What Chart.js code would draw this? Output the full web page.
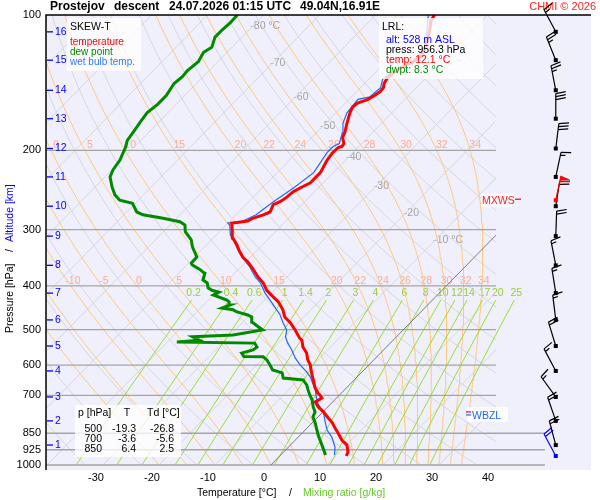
<!DOCTYPE html>
<html>
<head>
<meta charset="utf-8">
<script src="https://cdn.jsdelivr.net/npm/chart.js@4.4.1/dist/chart.umd.min.js"></script>
<style>
  html, body { margin: 0; padding: 0; background: #fff; }
  canvas { display: block; }
</style>
</head>
<body>
<canvas id="skewt" width="600" height="500"></canvas>
<script>
// ---------------- sounding data ----------------------------------------------

const tempP = [955, 936, 903, 880, 849, 828, 803, 786, 762, 743, 724, 710, 699, 692, 671, 647, 631, 599, 584, 564,
  547, 528, 522, 501, 483, 469, 452, 434, 423, 409, 394, 382, 368, 354, 345, 333, 324, 313, 303, 290,
  289, 287, 283, 278, 274, 264, 260, 254, 247, 242, 236, 224, 210, 207, 202, 197, 196, 193, 187, 182,
  176, 169, 164, 160, 157, 154, 152, 151, 148, 145, 142, 138, 135, 131, 129, 127, 124, 120, 114, 108, 103, 100];
const tempT = [11.9, 11.5, 10.1, 8.3, 6.4, 5.0, 3.4, 2.0, 0.1, -1.7, -3.1, -2.6, -3.5, -4.2, -5.8, -7.3, -8.4, -10.5, -11.8, -13.2,
  -14.9, -16.3, -17.1, -19.3, -21.4, -23.4, -25.0, -27.2, -29.0, -31.3, -33.2, -35.2, -37.3, -39.6, -41.4, -43.3, -44.6, -46.5, -47.7, -49.3,
  -48.5, -46.8, -46.4, -45.1, -44.4, -45.1, -44.4, -44.0, -43.8, -43.2, -42.3, -42.3, -43.3, -43.4, -43.6, -43.5, -43.0, -43.2, -44.5, -45.0,
  -45.9, -46.9, -47.6, -48.0, -47.8, -46.6, -46.3, -46.1, -45.8, -45.9, -46.5, -46.9, -46.8, -46.3, -45.7, -45.1, -44.7, -45.1, -46.3, -47.7, -49.1, -49.5];

const dewP = [950, 912, 880, 858, 836, 807, 782, 762, 743, 717, 699, 681, 664, 654, 647, 641, 624, 615, 599, 584,
  575, 574, 564, 555, 547, 536, 533, 528, 519, 514, 501, 481, 469, 464, 457, 452, 448, 441, 434, 430,
  419, 413, 409, 404, 394, 388, 375, 373, 368, 359, 356, 345, 328, 316, 303, 293, 288, 283, 278, 274,
  262, 258, 251, 241, 229, 221, 210, 197, 190, 180, 173, 165, 158, 151, 142, 137, 133, 127, 121, 118, 112, 108, 104, 100];
const dewT = [8.0, 6.1, 4.4, 3.2, 2.1, 0.6, -0.9, -1.4, -2.6, -4.0, -5.3, -6.5, -7.6, -8.5, -9.1, -13.0, -14.1, -16.3, -17.7, -19.1,
  -20.3, -23.8, -24.8, -23.3, -23.1, -24.2, -38.3, -34.6, -36.4, -29.5, -25.1, -28.4, -29.3, -30.4, -32.8, -33.9, -36.2, -35.3, -36.0, -36.7,
  -40.0, -39.5, -41.1, -42.2, -43.2, -44.5, -45.3, -45.8, -46.8, -49.1, -49.5, -49.6, -52.1, -53.6, -56.1, -57.3, -58.8, -62.4, -66.6, -68.2,
  -70.5, -73.3, -75.1, -77.0, -79.1, -79.8, -80.3, -81.5, -82.4, -82.9, -83.3, -83.7, -83.3, -83.3, -84.0, -83.7, -83.9, -83.5, -84.2, -83.6, -84.8, -84.8, -84.6, -84.7];

const wetP = [950, 912, 867, 836, 803, 766, 728, 706, 681, 657, 637, 621, 609, 599, 578, 555, 536, 519, 501, 483,
  464, 446, 430, 415, 394, 382, 363, 347, 333, 316, 308, 293, 290, 288, 278, 260, 242, 224, 202, 196,
  193, 183, 174, 165, 154, 152, 145, 139, 135, 128, 123, 117, 108, 100];
const wetT = [9.6, 8.3, 6.0, 3.9, 2.2, 0.3, -2.5, -3.8, -5.2, -6.9, -8.4, -9.9, -11.2, -12.3, -14.4, -16.4, -18.3, -19.8, -20.8, -22.7,
  -24.6, -26.9, -29.0, -31.1, -33.7, -35.7, -38.4, -41.2, -43.4, -46.1, -47.5, -49.3, -50.0, -47.8, -46.4, -45.6, -44.4, -43.5, -44.6, -44.6,
  -44.0, -45.3, -46.9, -48.0, -48.4, -46.7, -46.4, -47.5, -47.3, -45.5, -45.1, -45.9, -48.2, -50.6];

// wind: surface + every km
const windP   = [955, 903, 798, 706, 618, 544, 476, 415, 360, 310, 266, 229, 198, 170, 147, 126, 109];
const windDir = [332, 345, 341, 324, 332, 343, 353, 351, 349, 2, 9, 12, 7, 360, 349, 338, 332];
const windSpd = [20, 20, 20, 15, 15, 20, 15, 15, 15, 20, 20, 15, 30, 30, 25, 25, 15];
const maxWindP = 258, maxWindDir = 12, maxWindSpd = 60;
const wbzlP = 774;

// altitude scale
const altKm = [1, 2, 3, 4, 5, 6, 7, 8, 9, 10, 11, 12, 13, 14, 15, 16];
const altP  = [903, 798, 706, 618, 544, 476, 415, 360, 310, 266, 229, 198, 170, 147, 126, 109];

// axes and diagram lines
const pressureLevels = [200, 300, 400, 500, 600, 700, 850, 925, 1000];
const pressureLabels = [100, 200, 300, 400, 500, 600, 700, 850, 925, 1000];
const tempTicks = [-30, -20, -10, 0, 10, 20, 30, 40];
const mixRatios = [0.2, 0.4, 0.6, 1, 1.4, 2, 3, 4, 6, 8, 10, 12, 14, 17, 20, 25];
const thetaW = [-20, -15, -10, -5, 0, 5, 10, 15, 20, 22, 24, 26, 28, 30, 32, 34];
const thetaWLabels200 = [0, 5, 10, 15, 20, 22, 24, 26, 28, 30, 32, 34];
const thetaWLabels400 = [-10, -5, 0, 5, 10, 15, 20, 22, 24, 26, 28, 30, 32, 34];
const isoLabels = [-80, -70, -60, -50, -40, -30, -20, -10];
const isoLabelP = [106, 128, 152, 177, 207, 240, 275, 316];

// summary table
const tableP  = ["500", "700", "850"];
const tableT  = ["-19.3", "-3.6", "6.4"];
const tableTd = ["-26.8", "-5.6", "2.5"];

// ---------------- geometry -----------------------

const SKEW = 78.7;          // degC per decade of pressure
const T_SHIFT = 1.23;       // isotherm offset at 1000 hPa against the axis ticks
const X_MIN = -38.93, X_MAX = 58.39;
const X_GRID = 41.43;       // right end of the diagram lines
const X_LOW = 50.18;        // right end of the 850..1000 lines
const BARB_X = 52.1;
const FONT = "'Liberation Sans', Arial, sans-serif";

function skewX(t, p) { return t + T_SHIFT + SKEW * Math.log10(1000 / p); }
function toPts(ps, ts) { return ps.map((p, i) => ({ x: skewX(ts[i], p), y: p })); }

const samplesP = [];
for (let i = 0; i <= 100; i++) samplesP.push(1000 * Math.pow(10, -i / 100));

// pseudo-adiabat
function es(tc) { return 6.112 * Math.exp(17.67 * tc / (tc + 243.5)); }
function moistRate(tk, p) {
  const e = es(tk - 273.15), rs = 0.622 * e / (p - e);
  return (287.04 * tk + 2.501e6 * rs) / (1005.7 + 2.501e6 * 2.501e6 * rs * 0.622 / (287.04 * tk * tk));
}
function moistCurve(tw) {
  let tk = tw + 273.15, lp = Math.log(1000);
  return samplesP.map((p) => {
    const n = 4, h = (Math.log(p) - lp) / n;
    for (let k = 0; k < n; k++) {
      const k1 = moistRate(tk, Math.exp(lp));
      const k2 = moistRate(tk + h / 2 * k1, Math.exp(lp + h / 2));
      const k3 = moistRate(tk + h / 2 * k2, Math.exp(lp + h / 2));
      const k4 = moistRate(tk + h * k3, Math.exp(lp + h));
      tk += h / 6 * (k1 + 2 * k2 + 2 * k3 + k4);
      lp += h;
    }
    return { x: skewX(tk - 273.15, p), y: p };
  });
}
function xAt(curve, p) {
  const f = 100 * Math.log10(1000 / p), i = Math.floor(f), r = f - i;
  return curve[i].x + (curve[i + 1].x - curve[i].x) * r;
}
function tdFromW(w, p) {
  const l = Math.log(w * p / (622 + w) / 6.112);
  return 243.5 * l / (17.67 - l);
}

function lineSet(data, color, width, order, clip) {
  return { data, showLine: true, borderColor: color, borderWidth: width, pointRadius: 0,
    pointHoverRadius: 0, fill: false, tension: 0, order, clip };
}
const gridClip = { left: 0, top: 0, right: -(X_MAX - X_GRID) * 5.6, bottom: 0 };

const datasets = [];
datasets.push(lineSet(toPts(tempP, tempT), "#ff0000", 3, 1, 0));
datasets.push(lineSet(toPts(dewP, dewT), "#008a00", 3, 2, 0));
datasets.push(lineSet(toPts(wetP, wetT), "#2266ff", 1.2, 3, 0));

for (let t = -130; t <= 40; t += 10) {
  const pts = [{ x: skewX(t, 1000), y: 1000 }, { x: skewX(t, 100), y: 100 }];
  datasets.push(t === 0 ? lineSet(pts, "#7a7a7a", 1, 5, gridClip) : lineSet(pts, "#d6d6de", 1, 9, gridClip));
}
for (let th = 240; th <= 450; th += 10) {
  const pts = samplesP.map((p) => ({ x: skewX(th * Math.pow(p / 1000, 0.2857) - 273.15, p), y: p }));
  datasets.push(lineSet(pts, "#d6d6de", 1, 9, gridClip));
}
const moistCurves = {};
thetaW.forEach((tw) => {
  moistCurves[tw] = moistCurve(tw);
  datasets.push(lineSet(moistCurves[tw], "#ffc880", 1, 8, gridClip));
});
const mixP = [1000, 950, 900, 850, 800, 750, 700, 650, 600, 550, 500, 470, 430];
mixRatios.forEach((w) => {
  datasets.push(lineSet(mixP.map((p) => ({ x: skewX(tdFromW(w, p), p), y: p })), "#99dd33", 1, 7, 0));
});
pressureLevels.forEach((p) => {
  datasets.push(lineSet([{ x: X_MIN, y: p }, { x: p >= 850 ? X_LOW : X_GRID, y: p }], "#a4a4a4", 1.3, 6, 3));
});

// ---------------- drawing helpers -----------------------

function txt(c, s, x, y, color, size, align, bold) {
  c.font = (bold ? "bold " : "") + size + "px " + FONT;
  c.fillStyle = color;
  c.textAlign = align || "left";
  c.textBaseline = "middle";
  c.fillText(s, x, y);
}

function barb(c, x, y, dir, spd, color) {
  const a = dir * Math.PI / 180, ux = Math.sin(a), uy = -Math.cos(a);
  const px = -uy, py = ux;
  const tx = x + ux * 25, ty = y + uy * 25;
  c.strokeStyle = color; c.fillStyle = color; c.lineWidth = 1.2;
  c.beginPath(); c.moveTo(x, y); c.lineTo(tx, ty); c.stroke();
  c.fillRect(x - 2, y - 2, 4, 4);
  let s = Math.round(spd / 5) * 5, pos = 0;
  while (s >= 50) {
    const bx = tx - ux * pos, by = ty - uy * pos;
    c.beginPath(); c.moveTo(bx, by);
    c.lineTo(bx + px * 10 - ux * 2, by + py * 10 - uy * 2);
    c.lineTo(bx - ux * 5, by - uy * 5); c.closePath(); c.fill();
    pos += 6; s -= 50;
  }
  while (s >= 10) {
    const bx = tx - ux * pos, by = ty - uy * pos;
    c.beginPath(); c.moveTo(bx, by); c.lineTo(bx + px * 10 + ux * 2, by + py * 10 + uy * 2); c.stroke();
    pos += 3; s -= 10;
  }
  if (s >= 5) {
    if (pos === 0) pos = 3;
    const bx = tx - ux * pos, by = ty - uy * pos;
    c.beginPath(); c.moveTo(bx, by); c.lineTo(bx + px * 5 + ux, by + py * 5 + uy); c.stroke();
  }
}

function box(c, x, y, w, h) {
  c.fillStyle = "rgba(255,255,255,0.78)";
  c.fillRect(x, y, w, h);
}

const decor = {
  id: "decor",
  beforeDraw(chart) {
    const c = chart.ctx, a = chart.chartArea;
    c.save();
    c.fillStyle = "#f0f0fc";
    c.fillRect(a.left, a.top, a.right - a.left, a.bottom - a.top + 5);
    c.restore();
  },
  beforeDatasetsDraw(chart) {
    const c = chart.ctx, xs = chart.scales.x, ys = chart.scales.y;
    c.save();
    thetaWLabels200.forEach((tw) => {
      txt(c, String(tw), xs.getPixelForValue(xAt(moistCurves[tw], 200)) + 5, ys.getPixelForValue(200) - 5, "#ffaa8c", 10.5, "center");
    });
    thetaWLabels400.forEach((tw) => {
      txt(c, String(tw), xs.getPixelForValue(xAt(moistCurves[tw], 400)) + 2, ys.getPixelForValue(400) - 5, "#ffaa8c", 10.5, "center");
    });
    mixRatios.forEach((w) => {
      txt(c, String(w), xs.getPixelForValue(skewX(tdFromW(w, 430), 430)) + 2, ys.getPixelForValue(415), "#99cc33", 10.5, "center");
    });
    isoLabels.forEach((t, i) => {
      const p = isoLabelP[i], x = xs.getPixelForValue(skewX(t, p)) + 13, y = ys.getPixelForValue(p);
      txt(c, String(t), x, y, "#a0a0a0", 10.5, "right");
      if (i === 0 || i === isoLabels.length - 1) txt(c, " \u00b0C", x, y, "#a0a0a0", 10.5, "left");
    });
    c.restore();
  },
  afterDatasetsDraw(chart) {
    const c = chart.ctx, xs = chart.scales.x, ys = chart.scales.y, a = chart.chartArea;
    c.save();

    // frame
    c.strokeStyle = "#000"; c.lineWidth = 1.5;
    c.beginPath(); c.moveTo(a.left, 470); c.lineTo(a.left, a.top); c.lineTo(a.right, a.top); c.stroke();

    // pressure and altitude labels
    pressureLabels.forEach((p) => txt(c, String(p), 41, ys.getPixelForValue(p), "#000", 11, "right"));
    c.strokeStyle = "#0000ff"; c.lineWidth = 1.3;
    altKm.forEach((km, i) => {
      const y = ys.getPixelForValue(altP[i]);
      c.beginPath(); c.moveTo(a.left + 1, y); c.lineTo(a.left + 7, y); c.stroke();
      txt(c, String(km), a.left + 9, y, "#0000ff", 10.5);
    });

    // temperature ticks
    tempTicks.forEach((t) => txt(c, String(t), xs.getPixelForValue(t), 478, "#000", 11, "center"));

    // axis titles
    txt(c, "Temperature [\u00b0C]", 197, 493, "#000", 10.5);
    txt(c, "/", 289, 493, "#000", 10.5);
    txt(c, "Mixing ratio [g/kg]", 303, 493, "#66cc22", 10.5);
    c.save();
    c.translate(10, 333); c.rotate(-Math.PI / 2);
    txt(c, "Pressure [hPa]", 0, 0, "#000", 10.5);
    txt(c, "/", 81, 0, "#000", 10.5);
    txt(c, "Altitude [km]", 91, 0, "#0000ff", 10.5);
    c.restore();

    // title
    txt(c, "Prostejov", 50, 7, "#000", 12, "left", true);
    txt(c, "descent", 114, 7, "#000", 12, "left", true);
    txt(c, "24.07.2026 01:15 UTC", 169, 7, "#000", 12, "left", true);
    txt(c, "49.04N,16.91E", 300, 7, "#000", 12, "left", true);
    txt(c, "CHMI \u00a9 2026", 596, 7, "#ff2020", 11, "right");

    // legend box
    box(c, 67, 18, 74, 53);
    txt(c, "SKEW-T", 70, 27, "#000", 10.5);
    txt(c, "temperature", 70, 42, "#ff0000", 10);
    txt(c, "dew point", 70, 52, "#008a00", 10);
    txt(c, "wet bulb temp.", 70, 62, "#3377ff", 10);

    // launch point box
    box(c, 379, 18, 104, 61);
    txt(c, "LRL:", 382, 27, "#000", 10.5);
    txt(c, "alt: 528 m ASL", 386, 40, "#0000ff", 10.5);
    txt(c, "press: 956.3 hPa", 386, 50, "#000", 10.5);
    txt(c, "temp: 12.1 \u00b0C", 386, 60, "#ff0000", 10.5);
    txt(c, "dwpt: 8.3 \u00b0C", 386, 70, "#008a00", 10.5);

    // summary table
    box(c, 75, 405, 106, 52);
    txt(c, "p [hPa]", 78, 413, "#000", 10.5);
    txt(c, "T", 127, 413, "#000", 10.5, "center");
    txt(c, "Td [\u00b0C]", 147, 413, "#000", 10.5);
    tableP.forEach((p, i) => {
      const y = 429 + i * 10;
      txt(c, p, 102, y, "#000", 10.5, "right");
      txt(c, tableT[i], 136, y, "#000", 10.5, "right");
      txt(c, tableTd[i], 174, y, "#000", 10.5, "right");
    });

    // markers
    const yw = ys.getPixelForValue(wbzlP);
    c.fillStyle = "rgba(255,255,255,0.85)"; c.fillRect(467, yw - 8, 41, 15);
    c.lineWidth = 1.2;
    c.strokeStyle = "#ff0000"; c.beginPath(); c.moveTo(466, yw - 3); c.lineTo(471, yw - 3); c.stroke();
    c.strokeStyle = "#2266ff"; c.beginPath(); c.moveTo(466, yw); c.lineTo(471, yw); c.stroke();
    txt(c, "WBZL", 472, yw + 1, "#2266ff", 10.5);
    const ym = ys.getPixelForValue(maxWindP);
    c.fillStyle = "rgba(255,255,255,0.6)"; c.fillRect(481, ym - 7, 33, 14);
    txt(c, "MXWS", 482, ym + 1, "#ff2020", 10.5);
    c.strokeStyle = "#ff0000"; c.beginPath(); c.moveTo(515, ym - 1); c.lineTo(521, ym - 1); c.stroke();

    // wind barbs
    const bx = xs.getPixelForValue(BARB_X);
    windP.forEach((p, i) => barb(c, bx, ys.getPixelForValue(p), windDir[i], windSpd[i], i === 0 ? "#0000ff" : "#000"));
    barb(c, bx, ys.getPixelForValue(maxWindP), maxWindDir, maxWindSpd, "#ff0000");

    c.restore();
  }
};

new Chart(document.getElementById("skewt"), {
  type: "scatter",
  data: { datasets },
  options: {
    responsive: false,
    animation: false,
    events: [],
    layout: { padding: { left: 46, top: 15, right: 9, bottom: 35 } },
    scales: {
      x: { type: "linear", min: X_MIN, max: X_MAX, display: false },
      y: { type: "logarithmic", min: 100, max: 1000, reverse: true, display: false }
    },
    plugins: { legend: { display: false }, tooltip: { enabled: false } }
  },
  plugins: [decor]
});
</script>
</body>
</html>
